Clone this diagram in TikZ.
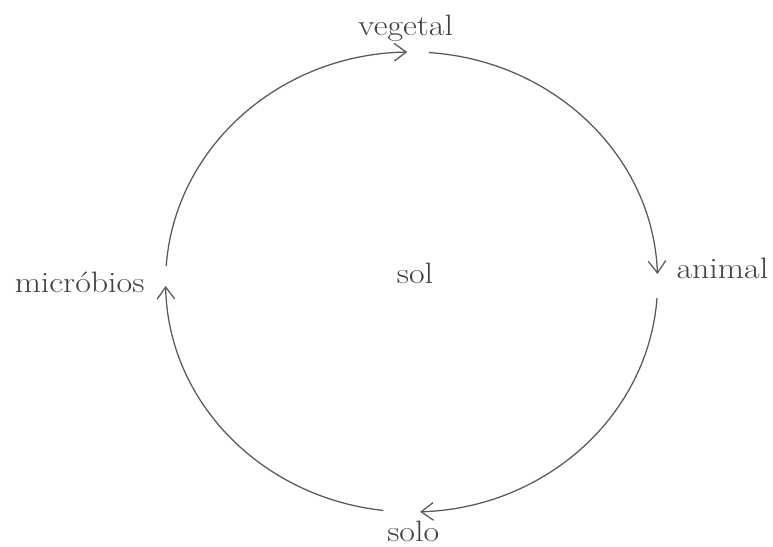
\documentclass[tikz,border=0pt]{standalone}
\usepackage{tikz}
\usetikzlibrary{arrows.meta}

\begin{document}
\begin{tikzpicture}[
  lbl/.style={inner sep=0pt, anchor=base, xscale=1.15, transform shape,
    font=\fontsize{21}{25}\selectfont, text=black!75},
  arr/.style={-{Straight Barb[length=3mm, width=4.4mm]}, line width=0.9pt, draw=black!65},
  ring/.style={x radius=6.15, y radius=5.75},
]
  \useasboundingbox (0,0) rectangle (19.325,13.65);

  \node[lbl] (veg) at (10.14,12.75) {vegetal};
  \node[lbl] (ani) at (18.06,6.70) {animal};
  \node[lbl] (solo) at (10.33,0.125) {solo};
  \node[lbl] (mic) at (1.99,6.35) {micróbios};
  \node[lbl] (sol) at (10.375,6.575) {sol};

  \coordinate (mid) at (10.29,6.6);
  \coordinate (mic-out) at ([shift={(176:6.15 and 5.75)}]mid);
  \coordinate (veg-out) at ([shift={(86:6.15 and 5.75)}]mid);
  \coordinate (ani-out) at ([shift={(-4:6.15 and 5.75)}]mid);
  \coordinate (solo-out) at ([shift={(-96.6:6.15 and 5.75)}]mid);

  \draw[arr] (mic-out) arc[ring, start angle=176, end angle=91];
  \draw[arr] (veg-out) arc[ring, start angle=86, end angle=2];
  \draw[arr] (ani-out) arc[ring, start angle=-4, end angle=-88];
  \draw[arr] (solo-out) arc[ring, start angle=-96.6, end angle=-179];
\end{tikzpicture}
\end{document}
